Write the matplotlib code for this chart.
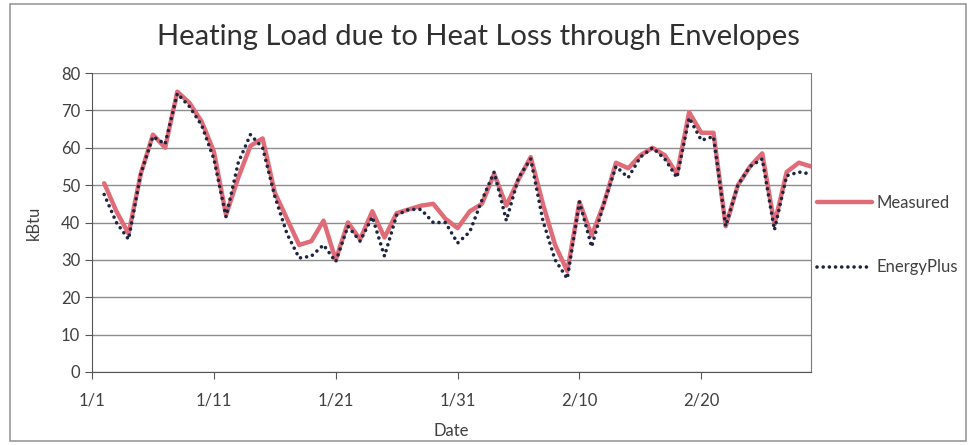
import pandas as pd
import numpy as np
import matplotlib
matplotlib.use('Agg')
import matplotlib.pyplot as plt
from matplotlib.patches import Rectangle

# daily values, 1/2 .. 3/1
dates = pd.date_range('2011-01-02', periods=59, freq='D')

measured = [50.5, 43, 37, 53, 63.5, 60, 75, 72, 67, 59,
            42, 52, 60.5, 62.5, 48, 41, 34, 35, 40.5, 30,
            40, 35.5, 43, 36, 42.5, 43.5, 44.5, 45, 41, 38.5,
            43, 45, 53, 44.5, 51.5, 57.5, 45, 34, 27, 45.5,
            36.5, 45, 56, 54.5, 58, 60, 58, 53, 69.5, 64,
            64, 39, 50, 55, 58.5, 39.5, 53.5, 56, 55]

energyplus = [47.5, 40, 35.5, 53, 63, 61, 74.5, 71, 66, 57,
              41.5, 56, 63.5, 60, 47, 37, 30.5, 31, 34, 29.5,
              39, 35, 41.5, 31, 42, 43.5, 43.5, 40, 40, 34.5,
              37.5, 46, 53.5, 40.5, 52, 57, 40.5, 30, 25, 45.5,
              33.5, 45, 55, 52, 57.5, 60, 57, 52, 68, 62,
              63, 39, 50, 55, 57, 38, 52.5, 53.5, 53]

tick_dates = pd.date_range('2011-01-01', periods=6, freq='10D')
tick_labels = [f"{d.month}/{d.day}" for d in tick_dates]

txt = '#404040'
plt.rcParams['font.family'] = ['Lato', 'DejaVu Sans']

fig = plt.figure(figsize=(9.76, 4.45), dpi=100)
ax = fig.add_axes([92/976, 1-372/445, (811-92)/976, (372-73)/445])

ax.plot(dates, measured, color='#E06C78', lw=3.2, solid_joinstyle='round',
        solid_capstyle='round', label='Measured', zorder=3)
ax.plot(dates, energyplus, color='#1C2640', lw=2.6, ls=(0, (0.01, 1.7)),
        dash_capstyle='round', label='EnergyPlus', zorder=4)

ax.set_xlim(pd.Timestamp('2011-01-01'), pd.Timestamp('2011-03-01'))
ax.set_ylim(0, 80)
ax.set_yticks(range(0, 81, 10))
ax.set_xticks(tick_dates)
ax.set_xticklabels(tick_labels)
ax.yaxis.grid(True, color='#8c8c8c', lw=1)
ax.set_axisbelow(True)
for s in ax.spines.values():
    s.set_color('#7a7a7a')
ax.spines['top'].set_visible(False)
ax.spines['left'].set_color('#555555')
ax.spines['bottom'].set_color('#555555')
ax.tick_params(axis='both', colors='#555555', labelcolor=txt, labelsize=12,
               direction='out', length=5)
ax.tick_params(axis='x', pad=10)

ax.set_ylabel('kBtu', fontsize=12, color=txt, labelpad=14)
ax.set_xlabel('Date', fontsize=12, color=txt, labelpad=10)

fig.text(0.49, 1-37/445, 'Heating Load due to Heat Loss through Envelopes',
         ha='center', va='center', fontsize=21, color='#303030')

ax.legend(loc='upper left', bbox_to_anchor=(817/976, 1-195/445),
          bbox_transform=fig.transFigure, frameon=False, fontsize=12,
          labelcolor=txt, handlelength=3.3, handletextpad=0.3,
          labelspacing=2.9, borderaxespad=0, borderpad=0)

fig.patches.append(Rectangle((10/976, 4/445), 1-20/976, 1-8/445,
                             transform=fig.transFigure, fill=False,
                             ec='#9a9a9a', lw=1.2))

plt.savefig('out.png', dpi=100)
